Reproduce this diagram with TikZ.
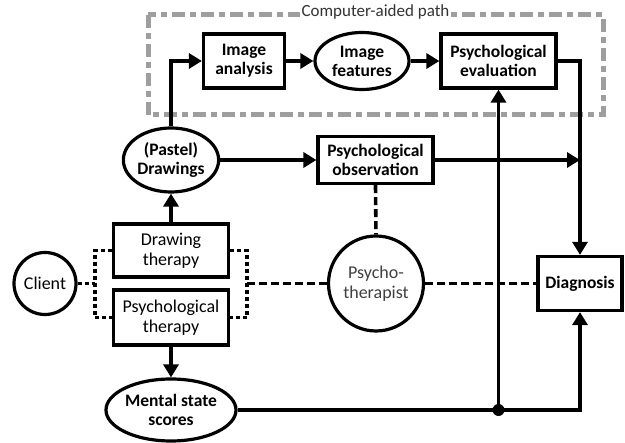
\documentclass[tikz,border=0pt]{standalone}
\usepackage{fontspec}
\setmainfont{Carlito}
\usetikzlibrary{arrows.meta,shapes.geometric}
\begin{document}
\begin{tikzpicture}[x=1pt,y=-1pt,
  base/.style={draw=black,line width=3.2pt,align=center,inner sep=0pt},
  rbox/.style={base,rectangle,font=\fontsize{18}{20}\selectfont},
  bbox/.style={base,rectangle,font=\bfseries\fontsize{17.5}{19}\selectfont},
  bell/.style={base,ellipse,font=\bfseries\fontsize{17.5}{19}\selectfont},
  rcirc/.style={base,circle,font=\fontsize{18}{20}\selectfont},
  arr/.style={line width=3.2pt,-{Triangle[length=13pt,width=15pt]}},
  ln/.style={line width=3.2pt},
  dashl/.style={line width=3.6pt,dash pattern=on 8pt off 4pt},
  dotl/.style={line width=3.6pt,dash pattern=on 4pt off 3pt},
  graydash/.style={draw=black!38,line width=5pt,dash pattern=on 13pt off 5pt on 6pt off 5pt}
]
\useasboundingbox (0,0) rectangle (625,443);

% computer-aided path frame
\draw[graydash] (148,15) rectangle (603,115);
\node[fill=white,inner sep=2pt,text=black!80,font=\fontsize{17}{19}\selectfont] (cap) at (375.5,12) {Computer-aided path};

% nodes
\node[bbox,minimum width=81pt,minimum height=54pt] (ia) at (244,61) {Image\\analysis};
\node[bell,minimum width=94pt,minimum height=57pt] (if) at (362,61) {Image\\features};
\node[bbox,minimum width=115pt,minimum height=54pt] (pe) at (498.5,61) {Psychological\\evaluation};
\node[bell,minimum width=93pt,minimum height=64pt] (dr) at (171,160) {(Pastel)\\Drawings};
\node[bbox,minimum width=115pt,minimum height=47pt] (po) at (375.5,160) {Psychological\\observation};
\node[rbox,minimum width=115pt,minimum height=53pt] (dt) at (171,250.5) {Drawing\\therapy};
\node[rbox,minimum width=115pt,minimum height=55pt] (pt) at (171,317.5) {Psychological\\therapy};
\node[rcirc,minimum size=62pt] (cl) at (45,283.5) {Client};
\node[rcirc,minimum size=95pt,text=black!75] (ps) at (376,283.5) {Psycho-\\therapist};
\node[bbox,minimum width=84pt,minimum height=54pt] (dg) at (580,283.5) {Diagnosis};
\node[bell,minimum width=128pt,minimum height=62pt] (ms) at (171,410) {Mental state\\scores};

% helper coordinates
\coordinate (pj) at (580,160);
\coordinate (dot) at (498.5,410);
\coordinate (bxl) at (95,283.5);
\coordinate (bxr) at (247,283.5);

% computer-aided path connectors
\draw[arr] (dr.north) |- (ia.west);
\draw[arr] (ia.east) -- (if.west);
\draw[arr] (if.east) -- (pe.west);
\draw[arr] (pe.east) -| (dg.north);

% observation path
\draw[arr] (dr.east) -- (po.west);
\draw[arr] (po.east) -- (pj);

% therapies
\draw[arr] (dt.north) -- (dr.south);
\draw[arr] (pt.south) -- (ms.north);

% mental state scores
\draw[ln] (ms.east) -- (dot);
\draw[arr] (dot) -- (pe.south);
\draw[arr] (dot) -| (dg.south);
\fill (dot) circle (6pt);

% dashed relations
\draw[dashl] (po.south) -- (ps.north);
\draw[dashl] (ps.east) -- (dg.west);
\draw[dashl] (bxr) -- (ps.west);
\draw[dotl] (dt.west) -| (bxl) |- (pt.west);
\draw[dotl] (dt.east) -| (bxr) |- (pt.east);
\draw[dotl] (cl.east) -- (bxl);
\end{tikzpicture}
\end{document}
